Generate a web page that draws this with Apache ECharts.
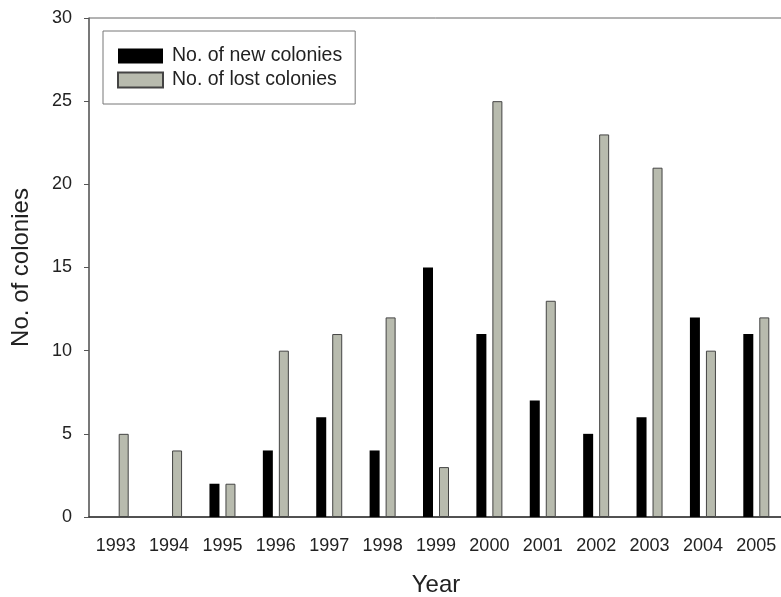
<!DOCTYPE html>
<html>
<head>
<meta charset="utf-8">
<script src="https://cdn.jsdelivr.net/npm/echarts@6/dist/echarts.min.js"></script>
<style>
  html, body { margin: 0; padding: 0; background: #fff; }
  #chart { width: 781px; height: 597px; }
</style>
</head>
<body>
<div id="chart"></div>
<script>
// Colony counts per year
const years = ['1993', '1994', '1995', '1996', '1997', '1998', '1999', '2000', '2001', '2002', '2003', '2004', '2005'];
const newColonies = [0, 0, 2, 4, 6, 4, 15, 11, 7, 5, 6, 12, 11];
const lostColonies = [5, 4, 2, 10, 11, 12, 3, 25, 13, 23, 21, 10, 12];
const yTicks = [0, 5, 10, 15, 20, 25, 30];

const FONT = '"Liberation Sans", Arial, sans-serif';
const chart = echarts.init(document.getElementById('chart'));

chart.setOption({
  animation: false,
  textStyle: { fontFamily: FONT },
  grid: {
    left: 89, right: -2, top: 18, bottom: 80,
    containLabel: false,
    outerBoundsMode: 'none',
    show: true, borderColor: '#666', borderWidth: 1, backgroundColor: 'transparent'
  },
  legend: {
    left: 103, top: 31,
    orient: 'vertical',
    padding: [15, 13, 14, 14],
    itemGap: 4,
    itemWidth: 45, itemHeight: 15,
    borderColor: '#777', borderWidth: 1,
    textStyle: { fontSize: 19.5, lineHeight: 20, color: '#222', fontFamily: FONT, padding: [0, 0, 0, 4] },
    data: [
      { name: 'No. of new colonies', icon: 'rect' },
      { name: 'No. of lost colonies', icon: 'rect' }
    ]
  },
  xAxis: {
    type: 'category',
    data: years,
    name: 'Year',
    nameLocation: 'middle',
    nameGap: 56,
    nameTextStyle: { fontSize: 24, color: '#222', fontFamily: FONT },
    axisLine: { lineStyle: { color: '#333', width: 1.5 } },
    axisTick: { alignWithLabel: true, length: 6, lineStyle: { color: '#333' } },
    axisLabel: { fontSize: 18, color: '#222', margin: 20, fontFamily: FONT }
  },
  yAxis: {
    type: 'value',
    min: yTicks[0], max: yTicks[yTicks.length - 1], interval: 5,
    name: 'No. of colonies',
    nameLocation: 'middle',
    nameGap: 56,
    nameTextStyle: { fontSize: 24, color: '#222', fontFamily: FONT },
    axisLine: { show: true, lineStyle: { color: '#666', width: 1.5 } },
    axisTick: { show: true, length: 5, lineStyle: { color: '#555' } },
    axisLabel: { fontSize: 18, color: '#222', margin: 17, fontFamily: FONT },
    splitLine: { show: false }
  },
  series: [
    {
      name: 'No. of new colonies',
      type: 'bar',
      data: newColonies,
      barWidth: 10,
      barGap: '60%',
      itemStyle: { color: '#000' }
    },
    {
      name: 'No. of lost colonies',
      type: 'bar',
      data: lostColonies,
      barWidth: 10,
      barGap: '60%',
      itemStyle: { color: '#b8bbae', borderColor: '#444', borderWidth: 1 }
    }
  ]
});
</script>
</body>
</html>
